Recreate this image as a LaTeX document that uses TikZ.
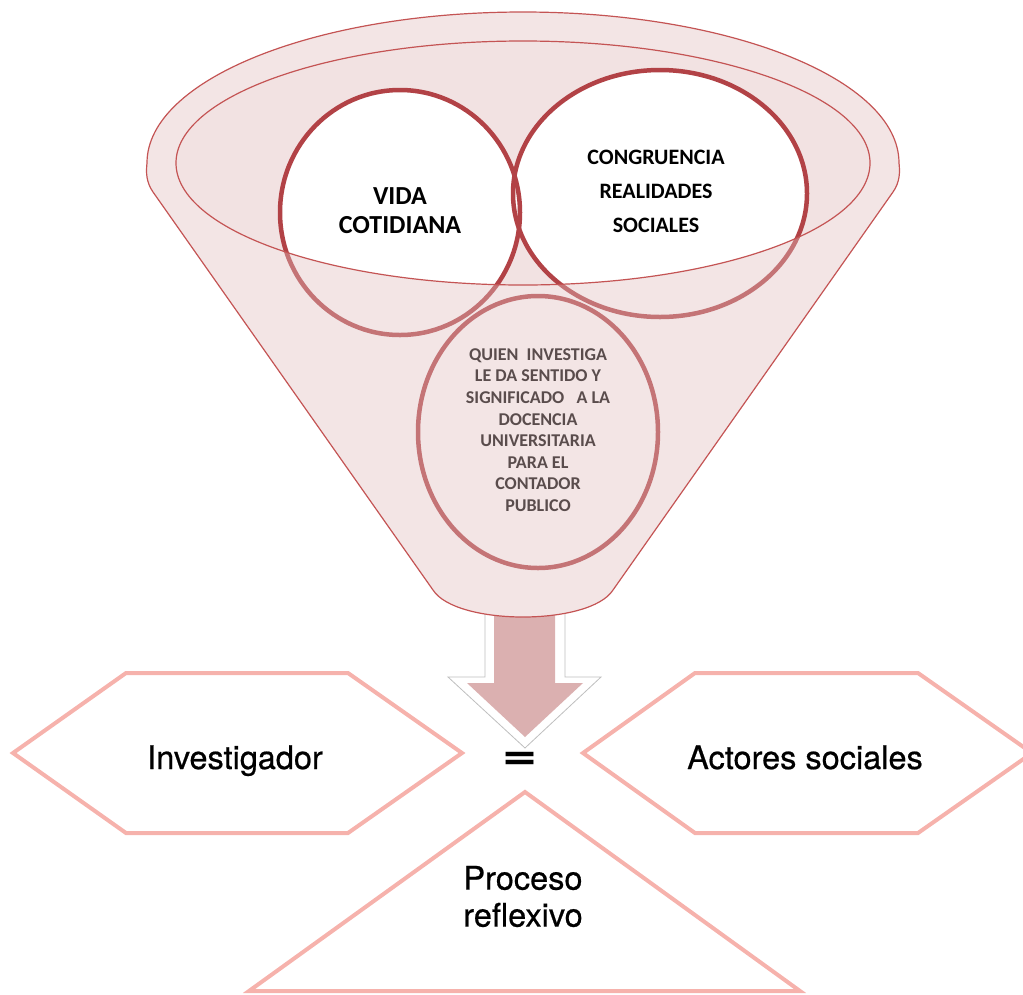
\documentclass[tikz,border=0pt]{standalone}
\usepackage{fontspec}
\setmainfont{TeX Gyre Heros}
\newfontfamily\calib{Carlito}
\newfontfamily\labelfont{TeX Gyre Heros}[FakeBold=0.6]
\usepackage{graphicx}
\usepackage{tikz}
\usetikzlibrary{positioning}

\definecolor{funnelred}{RGB}{196,84,84}
\definecolor{ringred}{RGB}{178,66,70}
\definecolor{innerpink}{RGB}{242,226,226}
\definecolor{veilpink}{RGB}{225,192,192}
\definecolor{arrowpink}{RGB}{219,176,176}
\definecolor{hexpink}{RGB}{246,178,172}

\tikzset{
  ringline/.style={draw=ringred, line width=4.5pt},
  rimline/.style={draw=funnelred, line width=1.2pt},
  hexline/.style={draw=hexpink, line width=4pt, line join=miter},
  circtext/.style={font=\calib\bfseries, align=center},
  labeltext/.style={font=\labelfont\fontsize{32.5}{37}\selectfont, align=center},
}

\newcommand{\funnelpath}{(153,192) .. controls (146,182) and (146,172) .. (147,163)
  arc[start angle=180, end angle=360, x radius=376, y radius=151]
  .. controls (900,172) and (900,182) .. (893,192) -- (613,590)
  .. controls (590,626) and (456,626) .. (433,590) -- cycle}

\begin{document}
\begin{tikzpicture}[x=1pt, y=-1pt]
\useasboundingbox (0,0) rectangle (1023,994);
\clip (0,0) rectangle (1023,994);

% arrow below the funnel
\filldraw[fill=white, draw=black!25, line width=0.8pt] (485,600) -- (565,600) -- (565,677) -- (601,677) -- (525,748) -- (448,677) -- (485,677) -- cycle;
\fill[arrowpink] (494,615) -- (555,615) -- (555,683) -- (583,683) -- (525,737) -- (467,683) -- (494,683) -- cycle;

% funnel
\fill[white] \funnelpath;
\fill[innerpink] (523,163) ellipse [x radius=347, y radius=122];

% circles
\fill[white] (400,212.5) ellipse [x radius=120, y radius=122.5];
\fill[white] (660,193.5) ellipse [x radius=147, y radius=123.5];
\fill[white] (538,432) ellipse [x radius=120, y radius=136];
\draw[ringline] (400,212.5) ellipse [x radius=120, y radius=122.5];
\draw[ringline] (660,193.5) ellipse [x radius=147, y radius=123.5];
\draw[ringline] (538,432) ellipse [x radius=120, y radius=136];

\node[circtext, font=\calib\bfseries\fontsize{26}{29.5}\selectfont] (vida) at (400,210.5) {VIDA\\COTIDIANA};
\node[circtext, font=\calib\bfseries\fontsize{22}{34}\selectfont] (congruencia) at (656,191) {CONGRUENCIA\\REALIDADES\\SOCIALES};
\node[circtext, font=\calib\bfseries\fontsize{18}{21.6}\selectfont] (quien) at (538,430) {QUIEN\ \ INVESTIGA\\LE DA SENTIDO Y\\SIGNIFICADO\ \ \ A LA\\DOCENCIA\\UNIVERSITARIA\\PARA EL\\CONTADOR\\PUBLICO};

% front of the funnel
\fill[veilpink, fill opacity=0.4, even odd rule] \funnelpath (523,163) ellipse [x radius=347, y radius=122];
\draw[rimline] \funnelpath;
\draw[rimline] (523,163) ellipse [x radius=347, y radius=122];

% shapes below
\draw[hexline] (13,753) -- (126,673) -- (348,673) -- (462,753) -- (348,833) -- (126,833) -- cycle;
\draw[hexline] (583,753) -- (695,673) -- (918,673) -- (1032,753) -- (918,833) -- (695,833) -- cycle;
\draw[hexline] (525,792) -- (800,991) -- (249,991) -- cycle;

\node[labeltext, anchor=base] (inv) at (235,769) {Investigador};
\node[labeltext, anchor=base] (act) at (805,769) {Actores sociales};
\node[labeltext] (proc) at (523,896.5) {Proceso\\reflexivo};
\node (eq) at (520,761) {\fontsize{40}{40}\selectfont\bfseries\scalebox{1.5}[1.1]{=}};
\end{tikzpicture}
\end{document}
